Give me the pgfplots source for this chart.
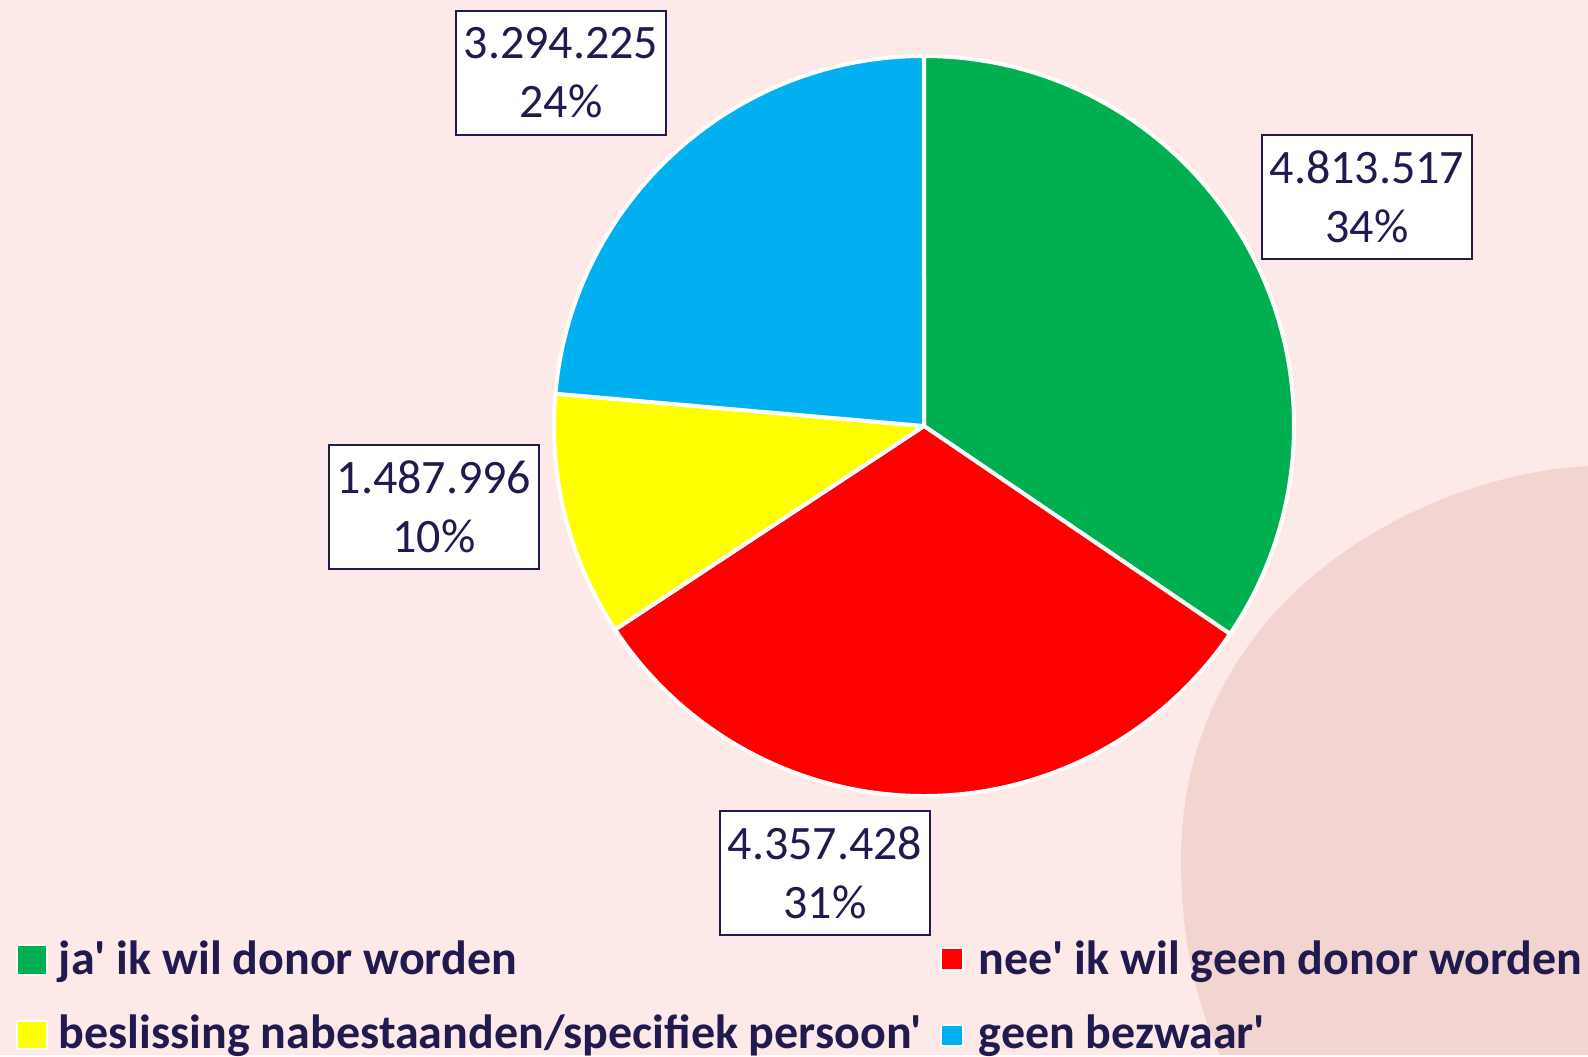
\documentclass[border=0pt]{standalone}
\usepackage{fontspec}
\setmainfont{Carlito}[Ligatures=TeXOff]
\usepackage{pgfplots}
\usepackage{pgfplotstable}
\pgfplotsset{compat=1.18}

\definecolor{bg}{RGB}{253,234,232}
\definecolor{blob}{RGB}{242,212,209}
\definecolor{navy}{RGB}{32,26,78}
\definecolor{cja}{RGB}{0,176,80}
\definecolor{cnee}{RGB}{255,0,0}
\definecolor{cbes}{RGB}{255,255,0}
\definecolor{cgeen}{RGB}{0,176,240}

% value, label text, percentage shown, label centre (px), colour
\pgfplotstableread[col sep=comma]{
value,lab,pct,lx,ly,col
4813517,4.813.517,34,1367,197,cja
4357428,4.357.428,31,825,873,cnee
1487996,1.487.996,10,434,507,cbes
3294225,3.294.225,24,561,73,cgeen
}\piedata

\tikzset{
  lab/.style={draw=navy, fill=white, line width=0.5pt, text=navy, align=center,
    minimum width=52.3pt, minimum height=31pt, inner sep=0pt,
    font=\fontsize{12}{14.7}\selectfont},
  leg/.style={anchor=base west, inner sep=0pt, text=navy,
    font=\bfseries\fontsize{12}{14}\selectfont},
  mk/.style={draw=white, line width=0.4pt}
}

% pie centre and radius in pixel units (1 px = 0.25pt)
\newcommand\cx{924}
\newcommand\cy{426}
\newcommand\rad{370}

\newcommand\drawwedge[1]{%
  \edef\tmp{\noexpand\fill[fill=\csname c#1\endcsname, draw=white, line width=1pt, line join=round]
    (axis cs:\cx,\cy) --
    (axis cs:\fpeval{\cx+\rad*cosd(\csname as#1\endcsname)},\fpeval{\cy-\rad*sind(\csname as#1\endcsname)})
    arc[start angle=\csname as#1\endcsname, end angle=\csname ae#1\endcsname, radius=\fpeval{\rad*0.25}pt] -- cycle;}%
  \tmp}

\newcommand\drawlabel[1]{%
  \edef\tmp{\noexpand\node[lab] at (axis cs:\csname lx#1\endcsname,\csname ly#1\endcsname)
    {\csname lab#1\endcsname\noexpand\\\csname pct#1\endcsname\noexpand\%};}%
  \tmp}

\begin{document}
\begin{tikzpicture}
\xdef\total{0}
\foreach \i in {0,...,3}{%
  \pgfplotstablegetelem{\i}{value}\of\piedata
  \xdef\total{\fpeval{\total+\pgfplotsretval}}}
\xdef\cum{90}
\foreach \i in {0,...,3}{%
  \pgfplotstablegetelem{\i}{value}\of\piedata
  \expandafter\xdef\csname as\i\endcsname{\cum}%
  \xdef\cum{\fpeval{round(\cum-360*\pgfplotsretval/\total,4)}}%
  \expandafter\xdef\csname ae\i\endcsname{\cum}%
  \pgfplotstablegetelem{\i}{col}\of\piedata
  \expandafter\xdef\csname c\i\endcsname{\pgfplotsretval}%
  \pgfplotstablegetelem{\i}{lab}\of\piedata
  \expandafter\xdef\csname lab\i\endcsname{\pgfplotsretval}%
  \pgfplotstablegetelem{\i}{pct}\of\piedata
  \expandafter\xdef\csname pct\i\endcsname{\pgfplotsretval}%
  \pgfplotstablegetelem{\i}{lx}\of\piedata
  \expandafter\xdef\csname lx\i\endcsname{\pgfplotsretval}%
  \pgfplotstablegetelem{\i}{ly}\of\piedata
  \expandafter\xdef\csname ly\i\endcsname{\pgfplotsretval}%
}
\begin{axis}[
  width=397pt, height=263.75pt, scale only axis,
  xmin=0, xmax=1588, ymin=0, ymax=1055, y dir=reverse,
  hide axis, clip=false
]
  \fill[bg] (axis cs:0,0) rectangle (axis cs:1588,1055);
  \fill[blob] (axis cs:1588,466) .. controls (axis cs:1420,475) and (axis cs:1181,600)
    .. (axis cs:1181,860) .. controls (axis cs:1181,950) and (axis cs:1200,1010)
    .. (axis cs:1220,1055) -- (axis cs:1588,1055) -- cycle;
  \pgfplotsinvokeforeach{0,1,2,3}{\drawwedge{#1}}
  \pgfplotsinvokeforeach{0,1,2,3}{\drawlabel{#1}}
  % legend
  \fill[cja, mk] (axis cs:17,945) rectangle (axis cs:47,975);
  \node[leg] at (axis cs:58,974) {ja' ik wil donor worden};
  \fill[cnee, mk] (axis cs:941,948) rectangle (axis cs:963,970);
  \node[leg] at (axis cs:978,974) {nee' ik wil geen donor worden};
  \fill[cbes, mk] (axis cs:17,1021) rectangle (axis cs:47,1049);
  \node[leg] at (axis cs:58,1048) {beslissing nabestaanden/specifiek persoon'};
  \fill[cgeen, mk] (axis cs:941,1025) rectangle (axis cs:963,1046);
  \node[leg] at (axis cs:978,1048) {geen bezwaar'};
\end{axis}
\end{tikzpicture}
\end{document}
